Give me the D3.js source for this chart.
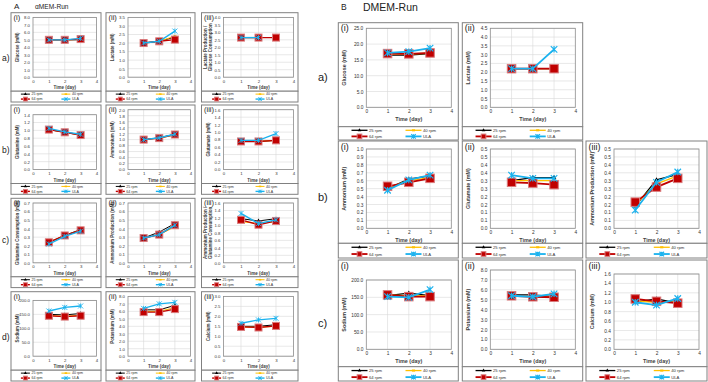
<!DOCTYPE html>
<html><head><meta charset="utf-8">
<script src="https://cdn.jsdelivr.net/npm/d3@7"></script>
<style>body{margin:0;background:#fff}svg{display:block}text{font-family:"Liberation Sans",Arial,sans-serif}</style>
</head><body><svg id="c" width="708" height="382"></svg>
<script>
// ---------- data ----------
const seriesNames = ["25 rpm", "40 rpm", "64 rpm", "ULA"];
const days = [1, 2, 3];
const xTicks = [0, 1, 2, 3, 4];

// alpha-MEM run (A) : each array = [25 rpm, 40 rpm, 64 rpm, ULA]
const A_glucose   = [[5.0, 5.0, 5.0], [5.0, 5.0, 5.05], [5.0, 5.0, 5.1], [5.0, 5.0, 5.2]];
const A_lactate   = [[2.0, 2.1, 2.35], [2.0, 2.1, 2.4], [2.0, 2.1, 2.2], [2.0, 2.1, 2.7]];
const A_lacGlc    = [[2.65, 2.65, null], [2.65, 2.65, null], [2.65, 2.65, 2.65], [2.65, 2.65, null]];
const A_glutamine = [[1.02, 0.95, 0.88], [1.02, 0.95, 0.88], [1.02, 0.95, 0.88], [1.05, 0.96, 0.9]];
const A_ammonium  = [[1.0, 1.06, 1.18], [1.0, 1.05, 1.15], [1.0, 1.05, 1.17], [1.0, 1.06, 1.18]];
const A_glutamate = [[0.75, 0.75, 0.78], [0.75, 0.75, 0.78], [0.75, 0.75, 0.78], [0.78, 0.78, 0.96]];
const A_glnCons   = [[0.24, 0.32, 0.39], [0.24, 0.32, 0.38], [0.24, 0.32, 0.38], [0.22, 0.31, 0.37]];
const A_nh4Prod   = [[0.29, 0.36, 0.46], [0.29, 0.33, 0.42], [0.29, 0.33, 0.44], [0.29, 0.33, 0.44]];
const A_nh4Gln    = [[1.18, 1.12, 1.18], [1.1, 1.05, 1.1], [1.15, 1.02, 1.12], [1.32, 1.05, 1.15]];
const A_sodium    = [[150, 148, 153], [146, 143, 147], [145, 142, 145], [162, 175, 180]];
const A_potassium = [[6.2, 6.2, 6.8], [6.0, 6.0, 6.5], [5.9, 5.9, 6.3], [6.4, 7.0, 7.2]];
const A_calcium   = [[1.5, 1.5, 1.58], [1.46, 1.45, 1.5], [1.47, 1.44, 1.52], [1.65, 1.82, 1.9]];

// DMEM run (B)
const B_glucose   = [[16.5, 16.5, 17.0], [16.8, 16.9, 17.1], [17.0, 16.9, 17.2], [17.2, 17.6, 18.7]];
const B_lactate   = [[2.2, 2.2, 2.2], [2.2, 2.2, 2.2], [2.2, 2.2, 2.2], [2.2, 2.2, 3.3]];
const B_ammonium  = [[0.5, 0.62, 0.66], [0.51, 0.6, 0.64], [0.53, 0.58, 0.63], [0.48, 0.61, 0.67]];
const B_glutamate = [[0.3, 0.32, 0.32], [0.3, 0.3, 0.3], [0.29, 0.285, 0.275], [0.335, 0.315, 0.315]];
const B_nh4Prod   = [[0.14, 0.305, 0.34], [0.15, 0.28, 0.33], [0.165, 0.26, 0.315], [0.115, 0.29, 0.355]];
const B_sodium    = [[155, 162, 155], [156, 155, 154], [157, 152, 152], [152, 150, 172]];
const B_potassium = [[5.5, 5.5, 5.3], [5.4, 5.4, 5.3], [5.4, 5.3, 5.25], [5.4, 5.3, 5.6]];
const B_calcium   = [[1.0, 1.07, 0.98], [1.03, 1.0, 1.0], [1.07, 1.02, 0.98], [1.0, 0.94, 1.08]];

// y tick values
const ticks_0_8   = [0, 1, 2, 3, 4, 5, 6, 7, 8];
const ticks_0_3p5 = [0, 0.5, 1, 1.5, 2, 2.5, 3, 3.5];
const ticks_0_4   = [0, 0.5, 1, 1.5, 2, 2.5, 3, 3.5, 4];
const ticks_0_1p4 = [0, 0.2, 0.4, 0.6, 0.8, 1.0, 1.2, 1.4];
const ticks_0_2   = [0, 0.2, 0.4, 0.6, 0.8, 1.0, 1.2, 1.4, 1.6, 1.8, 2.0];
const ticks_0_1p6 = [0, 0.2, 0.4, 0.6, 0.8, 1.0, 1.2, 1.4, 1.6];
const ticks_0_0p7 = [0, 0.1, 0.2, 0.3, 0.4, 0.5, 0.6, 0.7];
const ticks_0_200 = [0, 50, 100, 150, 200];
const ticks_0_3   = [0, 0.5, 1, 1.5, 2, 2.5, 3];
const ticks_0_25  = [0, 5, 10, 15, 20, 25];
const ticks_0_4p5 = [0, 0.5, 1, 1.5, 2, 2.5, 3, 3.5, 4, 4.5];
const ticks_0_1   = [0, 0.1, 0.2, 0.3, 0.4, 0.5, 0.6, 0.7, 0.8, 0.9, 1.0];
const ticks_0_0p5 = [0, 0.05, 0.1, 0.15, 0.2, 0.25, 0.3, 0.35, 0.4, 0.45, 0.5];
const labels_0_0p5 = ["0.0", "0.1", "0.1", "0.2", "0.2", "0.3", "0.3", "0.4", "0.4", "0.5", "0.5"];

// ---------- styling / layout ----------
const colors = ["#000000", "#FFC000", "#C00000", "#1AB2EE"];
const svg = d3.select("#c");

const layout = {
  A: {
    cols: [[11, 101], [106, 195], [201.5, 298]],
    rows: [12.7, 105, 198.3, 291.7].map(t => ({top: t, boxBot: t + 78.5, legBot: t + 89.3, pt: t + 4.7, pb: t + 64.5})),
    plotL: 22, plotR: 4.5, tick: 4.3, title: 4.5, leg: 3.6, lab: 7.5, sq: 7, xs: 5, tri: 7, lw: 1, ytOff: 6.5
  },
  B: {
    cols: [[338.3, 458.3], [462.3, 582.7], [586, 707]],
    rows: [
      {top: 22.7, boxBot: 126.7, legBot: 140, pt: 28.3, pb: 107.3},
      {top: 141, boxBot: 243.3, legBot: 258, pt: 149, pb: 228.3},
      {top: 260, boxBot: 366.7, legBot: 381, pt: 270, pb: 349.3}
    ],
    plotL: 28, plotW: 85, tick: 4.8, title: 5.4, leg: 4.2, lab: 9, sq: 8.5, xs: 6.5, tri: 9, lw: 1.3, ytOff: 6
  }
};

const panels = [
  {s: "A", r: 0, c: 0, lab: "(i)", yt: ["Glucose (mM)"], ticks: ticks_0_8, data: A_glucose},
  {s: "A", r: 0, c: 1, lab: "(ii)", yt: ["Lactate (mM)"], ticks: ticks_0_3p5, data: A_lactate},
  {s: "A", r: 0, c: 2, lab: "(iii)", yt: ["Lactate Production /", "Glucose Consumption"], ticks: ticks_0_4, data: A_lacGlc},
  {s: "A", r: 1, c: 0, lab: "(i)", yt: ["Glutamine (mM)"], ticks: ticks_0_1p4, data: A_glutamine, ptAdj: 5},
  {s: "A", r: 1, c: 1, lab: "(ii)", yt: ["Ammonium (mM)"], ticks: ticks_0_2, data: A_ammonium},
  {s: "A", r: 1, c: 2, lab: "(iii)", yt: ["Glutamate (mM)"], ticks: ticks_0_1p6, data: A_glutamate},
  {s: "A", r: 2, c: 0, lab: "(i)", yt: ["Glutamine Consumption (mM)"], ticks: ticks_0_0p7, data: A_glnCons},
  {s: "A", r: 2, c: 1, lab: "(ii)", yt: ["Ammonium Production (mM)"], ticks: ticks_0_0p7, data: A_nh4Prod},
  {s: "A", r: 2, c: 2, lab: "(iii)", yt: ["Ammonium Production /", "Glutamine Consumption"], ticks: ticks_0_1p6, data: A_nh4Gln},
  {s: "A", r: 3, c: 0, lab: "(i)", yt: ["Sodium (mM)"], ticks: ticks_0_200, data: A_sodium, ptAdj: 4},
  {s: "A", r: 3, c: 1, lab: "(ii)", yt: ["Potassium (mM)"], ticks: ticks_0_8, data: A_potassium},
  {s: "A", r: 3, c: 2, lab: "(iii)", yt: ["Calcium (mM)"], ticks: ticks_0_3, data: A_calcium},
  {s: "B", r: 0, c: 0, lab: "(i)", yt: ["Glucose (mM)"], ticks: ticks_0_25, data: B_glucose},
  {s: "B", r: 0, c: 1, lab: "(ii)", yt: ["Lactate (mM)"], ticks: ticks_0_4p5, data: B_lactate},
  {s: "B", r: 1, c: 0, lab: "(i)", yt: ["Ammonium (mM)"], ticks: ticks_0_1, data: B_ammonium},
  {s: "B", r: 1, c: 1, lab: "(ii)", yt: ["Glutamate (mM)"], ticks: ticks_0_0p5, tickLabels: labels_0_0p5, data: B_glutamate},
  {s: "B", r: 1, c: 2, lab: "(iii)", yt: ["Ammonium Production (mM)"], ticks: ticks_0_0p5, tickLabels: labels_0_0p5, data: B_nh4Prod},
  {s: "B", r: 2, c: 0, lab: "(i)", yt: ["Sodium (mM)"], ticks: ticks_0_200, data: B_sodium, ptAdj: 10},
  {s: "B", r: 2, c: 1, lab: "(ii)", yt: ["Potassium (mM)"], ticks: ticks_0_8, data: B_potassium},
  {s: "B", r: 2, c: 2, lab: "(iii)", yt: ["Calcium (mM)"], ticks: ticks_0_1p6, data: B_calcium, ptAdj: 4}
];

function marker(g, i, cx, cy, L) {
  if (i === 0) {
    g.append("path").attr("d", d3.symbol(d3.symbolTriangle, L.tri)()).attr("transform", `translate(${cx},${cy})`).attr("fill", colors[0]);
  } else if (i === 1) {
    g.append("line").attr("x1", cx - L.xs * 0.35).attr("x2", cx + L.xs * 0.35).attr("y1", cy).attr("y2", cy)
      .attr("stroke", colors[1]).attr("stroke-width", L.lw * 1.6);
  } else if (i === 2) {
    g.append("rect").attr("x", cx - L.sq / 2).attr("y", cy - L.sq / 2).attr("width", L.sq).attr("height", L.sq)
      .attr("fill", colors[2]).attr("stroke", "#D97A7C").attr("stroke-width", 1);
  } else {
    const h = L.xs / 2;
    g.append("path").attr("d", `M${cx - h},${cy - h}L${cx + h},${cy + h}M${cx - h},${cy + h}L${cx + h},${cy - h}M${cx},${cy - h}L${cx},${cy + h}`)
      .attr("stroke", colors[3]).attr("stroke-width", L.lw * 0.9).attr("fill", "none");
  }
}

function drawPanel(p) {
  const L = layout[p.s];
  const [x0, x1] = L.cols[p.c];
  const R = L.rows[p.r];
  const g = svg.append("g");
  g.append("rect").attr("x", x0).attr("y", R.top).attr("width", x1 - x0).attr("height", R.boxBot - R.top)
    .attr("fill", "#fff").attr("stroke", "#808080").attr("stroke-width", 1);
  g.append("rect").attr("x", x0).attr("y", R.boxBot).attr("width", x1 - x0).attr("height", R.legBot - R.boxBot)
    .attr("fill", "#fff").attr("stroke", "#808080").attr("stroke-width", 1);

  const pl = x0 + L.plotL;
  const pr = L.plotW ? pl + L.plotW : x1 - L.plotR;
  const pt = R.pt + (p.ptAdj || 0), pb = R.pb;
  const x = d3.scaleLinear().domain([0, 4]).range([pl, pr]);
  const y = d3.scaleLinear().domain([0, d3.max(p.ticks)]).range([pb, pt]);

  // grid
  g.selectAll(null).data(p.ticks).join("line")
    .attr("x1", pl).attr("x2", pr).attr("y1", d => y(d)).attr("y2", d => y(d))
    .attr("stroke", "#D9D9D9").attr("stroke-width", 0.6);
  g.selectAll(null).data(xTicks.slice(1, 4)).join("line")
    .attr("x1", d => x(d)).attr("x2", d => x(d)).attr("y1", pt).attr("y2", pb)
    .attr("stroke", "#D9D9D9").attr("stroke-width", 0.6);
  g.append("rect").attr("x", pl).attr("y", pt).attr("width", pr - pl).attr("height", pb - pt)
    .attr("fill", "none").attr("stroke", "#8C8C8C").attr("stroke-width", 0.8);

  // axes
  const fmt = p.tickLabels ? ((d, i) => p.tickLabels[i]) : d3.format(".1f");
  const ya = g.append("g").attr("transform", `translate(${pl},0)`)
    .call(d3.axisLeft(y).tickValues(p.ticks).tickFormat(fmt).tickSize(0).tickPadding(3));
  ya.select(".domain").remove();
  ya.selectAll("text").attr("font-size", L.tick).attr("font-family", "Liberation Sans, Arial, sans-serif").attr("fill", "#333");
  const xa = g.append("g").attr("transform", `translate(0,${pb})`)
    .call(d3.axisBottom(x).tickValues(xTicks).tickFormat(d3.format("d")).tickSize(0).tickPadding(2.5));
  xa.select(".domain").remove();
  xa.selectAll("text").attr("font-size", L.tick).attr("font-family", "Liberation Sans, Arial, sans-serif").attr("fill", "#333");

  // axis titles
  g.append("text").attr("x", (pl + pr) / 2).attr("y", pb + L.tick * 2.6 + 1)
    .attr("text-anchor", "middle").attr("font-size", L.title).attr("font-weight", "bold").attr("fill", "#404040")
    .text("Time (day)");
  const cy = (pt + pb) / 2, cx = x0 + L.ytOff;
  const yt = g.append("text").attr("transform", `translate(${cx},${cy}) rotate(-90)`)
    .attr("text-anchor", "middle").attr("font-size", L.title).attr("font-weight", "bold").attr("fill", "#404040");
  const n = p.yt.length;
  p.yt.forEach((t, i) => {
    yt.append("tspan").attr("x", 0).attr("y", (i - (n - 1) / 2) * L.title * 1.1 + L.title * 0.35).text(t);
  });

  // panel label
  g.append("text").attr("x", x0 + 2.5).attr("y", R.top + L.lab * 0.95).attr("font-size", L.lab).attr("fill", "#222").text(p.lab);

  // series
  const line = d3.line().defined(d => d[1] != null).x(d => x(d[0])).y(d => y(d[1]));
  p.data.forEach((vals, i) => {
    const pts = days.map((d, k) => [d, vals[k]]);
    g.append("path").attr("d", line(pts)).attr("fill", "none").attr("stroke", colors[i])
      .attr("stroke-width", i >= 2 ? L.lw * 1.4 : L.lw);
    pts.filter(d => d[1] != null).forEach(d => marker(g, i, x(d[0]), y(d[1]), L));
  });

  // legend
  const lw = x1 - x0;
  const lh = R.legBot - R.boxBot;
  const cols = [x0 + lw * 0.11, x0 + lw * 0.56];
  const ys = [R.boxBot + lh * 0.27, R.boxBot + lh * 0.73];
  const segL = p.s === "A" ? 9 : 16;
  seriesNames.forEach((name, i) => {
    const lx = cols[i % 2], ly = ys[Math.floor(i / 2)];
    g.append("line").attr("x1", lx).attr("x2", lx + segL).attr("y1", ly).attr("y2", ly)
      .attr("stroke", colors[i]).attr("stroke-width", i >= 2 ? L.lw * 1.4 : L.lw);
    const ms = {tri: L.tri * 0.6, sq: L.sq * 0.55, xs: L.xs * 0.7, lw: L.lw};
    marker(g, i, lx + segL / 2, ly, ms);
    g.append("text").attr("x", lx + segL + 1.5).attr("y", ly + L.leg * 0.35).attr("font-size", L.leg).attr("fill", "#333").text(name);
  });
}

panels.forEach(drawPanel);

// headings
svg.append("text").attr("x", 14).attr("y", 9).attr("font-size", 8).attr("fill", "#222").text("A");
svg.append("text").attr("x", 35).attr("y", 9).attr("font-size", 6.6).attr("fill", "#222").text("αMEM-Run");
svg.append("text").attr("x", 341).attr("y", 10).attr("font-size", 8.5).attr("fill", "#222").text("B");
svg.append("text").attr("x", 363).attr("y", 11).attr("font-size", 10.5).attr("fill", "#222").text("DMEM-Run");

// row labels
const rowLabs = ["a)", "b)", "c)", "d)"];
[61, 153, 243, 340].forEach((yy, i) => svg.append("text").attr("x", 2).attr("y", yy).attr("font-size", 8.5).attr("fill", "#222").text(rowLabs[i]));
[81, 201, 327].forEach((yy, i) => svg.append("text").attr("x", 318).attr("y", yy).attr("font-size", 11).attr("fill", "#222").text(rowLabs[i]));
</script></body></html>
